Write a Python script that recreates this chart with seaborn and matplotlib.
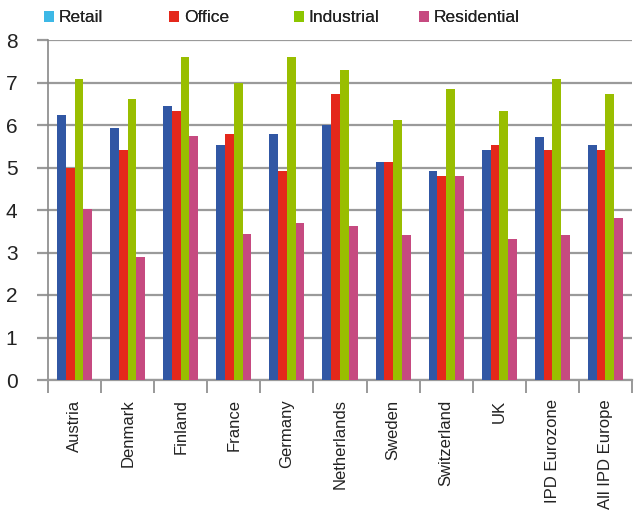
import matplotlib
matplotlib.use("Agg")
import matplotlib.pyplot as plt
import seaborn as sns
import pandas as pd
from matplotlib.patches import Patch

countries = ["Austria", "Denmark", "Finland", "France", "Germany", "Netherlands",
             "Sweden", "Switzerland", "UK", "IPD Eurozone", "All IPD Europe"]
series = ["Retail", "Office", "Industrial", "Residential"]
retail = [6.23, 5.92, 6.44, 5.52, 5.80, 6.01, 5.12, 4.91, 5.40, 5.71, 5.52]
office = [5.00, 5.40, 6.34, 5.80, 4.91, 6.72, 5.12, 4.79, 5.52, 5.40, 5.40]
industrial = [7.09, 6.62, 7.61, 7.00, 7.61, 7.30, 6.11, 6.84, 6.32, 7.09, 6.72]
residential = [4.02, 2.89, 5.73, 3.43, 3.69, 3.62, 3.41, 4.79, 3.32, 3.41, 3.81]
yticks = [0, 1, 2, 3, 4, 5, 6, 7, 8]

bar_colors = ["#3157A4", "#E4281B", "#99BE00", "#C64A80"]
legend_colors = ["#3DB8E6", "#E4281B", "#8CC600", "#C64A80"]

rows = []
for s, vals in zip(series, [retail, office, industrial, residential]):
    for c, v in zip(countries, vals):
        rows.append({"Country": c, "Type": s, "Value": v})
df = pd.DataFrame(rows)

sns.set_style("white")
plt.rcParams['font.family'] = ['Liberation Sans', 'DejaVu Sans']

fig = plt.figure(figsize=(6.38, 5.11), dpi=100)
ax = fig.add_axes([48 / 638, 1 - 380 / 511, (632 - 48) / 638, (380 - 40) / 511])

sns.barplot(data=df, x="Country", y="Value", hue="Type", order=countries,
            hue_order=series, palette=bar_colors, width=0.66, saturation=1,
            linewidth=0, legend=False, ax=ax, zorder=3)

ax.set_ylim(0, 8)
ax.set_xlim(-0.5, len(countries) - 0.5)
ax.set_yticks(yticks)
ax.set_yticklabels([str(t) for t in yticks], fontsize=15, color="#222222")
ax.yaxis.grid(True, color="#9A9A9A", linewidth=1.6, zorder=0)
ax.set_axisbelow(True)
ax.tick_params(axis="y", length=8, width=1.6, color="#9A9A9A", pad=14, left=True)

ax.set_xticks(range(len(countries)))
ax.set_xticklabels(countries, rotation=90, fontsize=12, color="#222222")
ax.tick_params(axis="x", length=0, pad=14)
ax.set_xticks([i - 0.5 for i in range(len(countries) + 1)], minor=True)
ax.tick_params(axis="x", which="minor", length=9, width=1.2, color="#888888", bottom=True)

for sp in ["top", "right"]:
    ax.spines[sp].set_visible(False)
ax.spines["left"].set_color("#888888")
ax.spines["left"].set_linewidth(1.2)
ax.spines["bottom"].set_color("#9A9A9A")
ax.spines["bottom"].set_linewidth(1.6)
ax.set_xlabel("")
ax.set_ylabel("")

legend_x = [44, 169, 294, 419]
for s, c, lx in zip(series, legend_colors, legend_x):
    leg = fig.legend(handles=[Patch(facecolor=c, edgecolor="none", label=s)],
                     loc="center left", bbox_to_anchor=(lx / 638, 1 - 18 / 511),
                     frameon=False, fontsize=12.5, handlelength=0.6, handleheight=0.6,
                     handletextpad=0.25, borderpad=0, borderaxespad=0)
    for t in leg.get_texts():
        t.set_color("#222222")
    fig.add_artist(leg)

fig.savefig("out.png", dpi=100)
